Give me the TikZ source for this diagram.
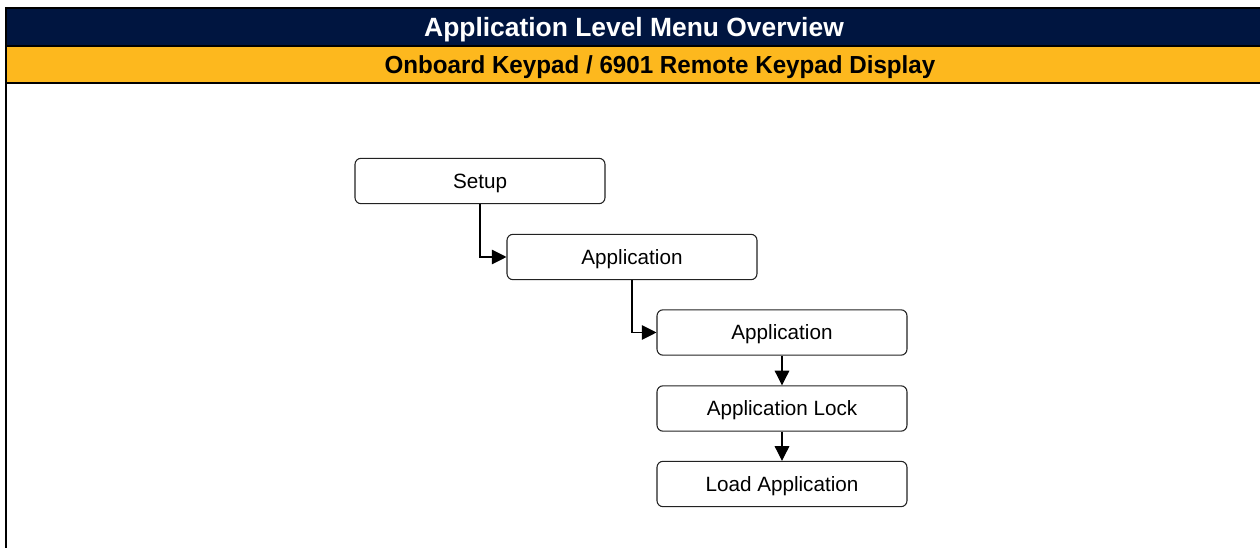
\documentclass[tikz,border=0pt]{standalone}
\usepackage{fontspec}
\setmainfont{Liberation Sans}
\usetikzlibrary{arrows.meta}
\definecolor{navy}{HTML}{001540}
\definecolor{gold}{HTML}{FDB81E}
\definecolor{edge}{HTML}{222222}
\tikzset{
  menubox/.style={draw=edge, line width=0.8pt, rounded corners=4.5pt, fill=white,
    minimum width=187.5pt, minimum height=34pt, inner sep=0pt, text depth=0pt,
    font=\fontsize{15.5pt}{17pt}\selectfont},
  link/.style={draw=black, line width=0.8pt, -{Triangle[length=11pt,width=11pt]}},
  band/.style={line width=1.5pt, draw=black},
  bandtext/.style={text depth=0pt}
}
\begin{document}
\begin{tikzpicture}[x=0.75pt, y=-0.75pt]
\useasboundingbox (0,0) rectangle (1260,548);
% header bands
\fill[navy] (6,8) rectangle (1264,46);
\fill[gold] (6,46) rectangle (1264,83);
\draw[band] (1264,8) -- (6,8) -- (6,560);
\draw[band] (6,46) -- (1264,46);
\draw[band] (6,83) -- (1264,83);
\node[bandtext, text=white, font=\bfseries\fontsize{19.8pt}{21pt}\selectfont] (title) at (634,26.5) {Application Level Menu Overview};
\node[bandtext, text=black, font=\bfseries\fontsize{18.5pt}{20pt}\selectfont, xscale=0.98] (subtitle) at (660,64.5) {Onboard Keypad / 6901 Remote Keypad Display};
% menu boxes
\node[menubox] (setup) at (480,181) {Setup};
\node[menubox] (app1) at (632,257) {Application};
\node[menubox] (app2) at (782,332.5) {Application};
\node[menubox] (lock) at (782,408.5) {Application Lock};
\node[menubox] (load) at (782,484) {Load Application};
% connectors
\draw[link] (setup.south) |- (app1.west);
\draw[link] (app1.south) |- (app2.west);
\draw[link] (app2.south) -- (lock.north);
\draw[link] (lock.south) -- (load.north);
\end{tikzpicture}
\end{document}
